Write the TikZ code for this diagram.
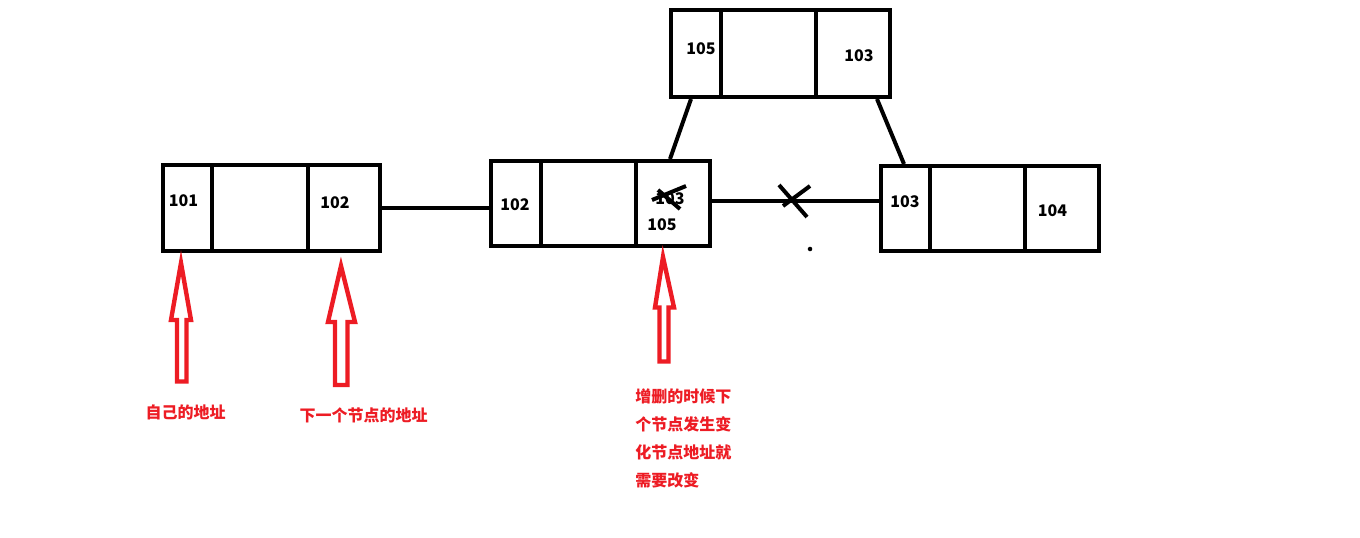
\documentclass[tikz,border=0pt]{standalone}
\usepackage{fontspec}
\newfontfamily\cjk{Noto Sans CJK SC}
\usetikzlibrary{calc}
\definecolor{pred}{RGB}{237,28,36}
\begin{document}
\begin{tikzpicture}[x=0.75pt,y=-0.75pt,
  box/.style={draw=black,line width=3pt,inner sep=0pt,line join=miter},
  div/.style={line width=3pt},
  link/.style={line width=3pt},
  num/.style={font=\cjk\bfseries\fontsize{12pt}{14pt}\selectfont,inner sep=0pt},
  note/.style={font=\cjk\bfseries\fontsize{12pt}{21.2pt}\selectfont,text=pred,inner sep=0pt},
  hollow/.style={draw=pred,line width=3.3pt,line join=miter}]
\useasboundingbox (0,0) rectangle (1360,538);

% boxes
\node[box,minimum width=217*0.75pt,minimum height=86*0.75pt] (A) at (271.5,208) {};
\node[box,minimum width=219*0.75pt,minimum height=85*0.75pt] (B) at (600.5,203.5) {};
\node[box,minimum width=219*0.75pt,minimum height=87*0.75pt] (C) at (780.5,53.5) {};
\node[box,minimum width=218.5*0.75pt,minimum height=85*0.75pt] (D) at (989.75,208.5) {};

% dividers
\draw[div] (212,165) -- (212,251);
\draw[div] (308,165) -- (308,251);
\draw[div] (541,161) -- (541,246);
\draw[div] (636,161) -- (636,246);
\draw[div] (721,10) -- (721,97);
\draw[div] (816,10) -- (816,97);
\draw[div] (930,166) -- (930,251);
\draw[div] (1025,166) -- (1025,251);

% numbers
\node[num] (a1) at (183.5,200.5) {101};
\node[num] (a2) at (335,203) {102};
\node[num] (b1) at (515,205) {102};
\node[num] (b2) at (670,199) {103};
\node[num] (b3) at (662,225) {105};
\node[num] (c1) at (701,49) {105};
\node[num] (c2) at (859,56) {103};
\node[num] (d1) at (905,202) {103};
\node[num] (d2) at (1052.5,210.5) {104};

% cross over old 103
\draw[link] (652,200) -- (686,186);
\draw[link] (658,190) -- (680,209);

% connectors
\draw[link] (A.east) -- (A.east -| B.west);
\draw[link] ($(C.south west)+(22,0)$) -- ($(B.north west)+(181,0)$);
\draw[link] ($(C.south east)+(-15,0)$) -- ($(D.north west)+(25.5,0)$);
\draw[link] ($(B.east)+(0,-2.5)$) -- ($(D.west)+(0,-7.5)$);

% X on the broken link
\draw[link] (779,185) -- (807,217);
\draw[link] (810,186) -- (783,206);
\fill (810,249) circle[radius=1.7pt];

% hollow red arrows
\draw[hollow] (181,263) -- (191,320) -- (186.5,320) -- (186.5,381.5) -- (177,381.5) -- (177,320) -- (171,320) -- cycle;
\draw[hollow] (341,266) -- (355,322) -- (347.5,322) -- (347.5,385) -- (335,385) -- (335,322) -- (328,322) -- cycle;
\draw[hollow] (663,257) -- (674,307.5) -- (668.5,307.5) -- (668.5,361.5) -- (659.5,361.5) -- (659.5,307.5) -- (655,307.5) -- cycle;

% notes
\node[note] (n1) at (185.5,412) {自己的地址};
\node[note] (n2) at (363.5,415) {下一个节点的地址};
\node[note,align=left,anchor=north west] (n3) at (635,388) {增删的时候下\\个节点发生变\\化节点地址就\\需要改变};
\end{tikzpicture}
\end{document}
